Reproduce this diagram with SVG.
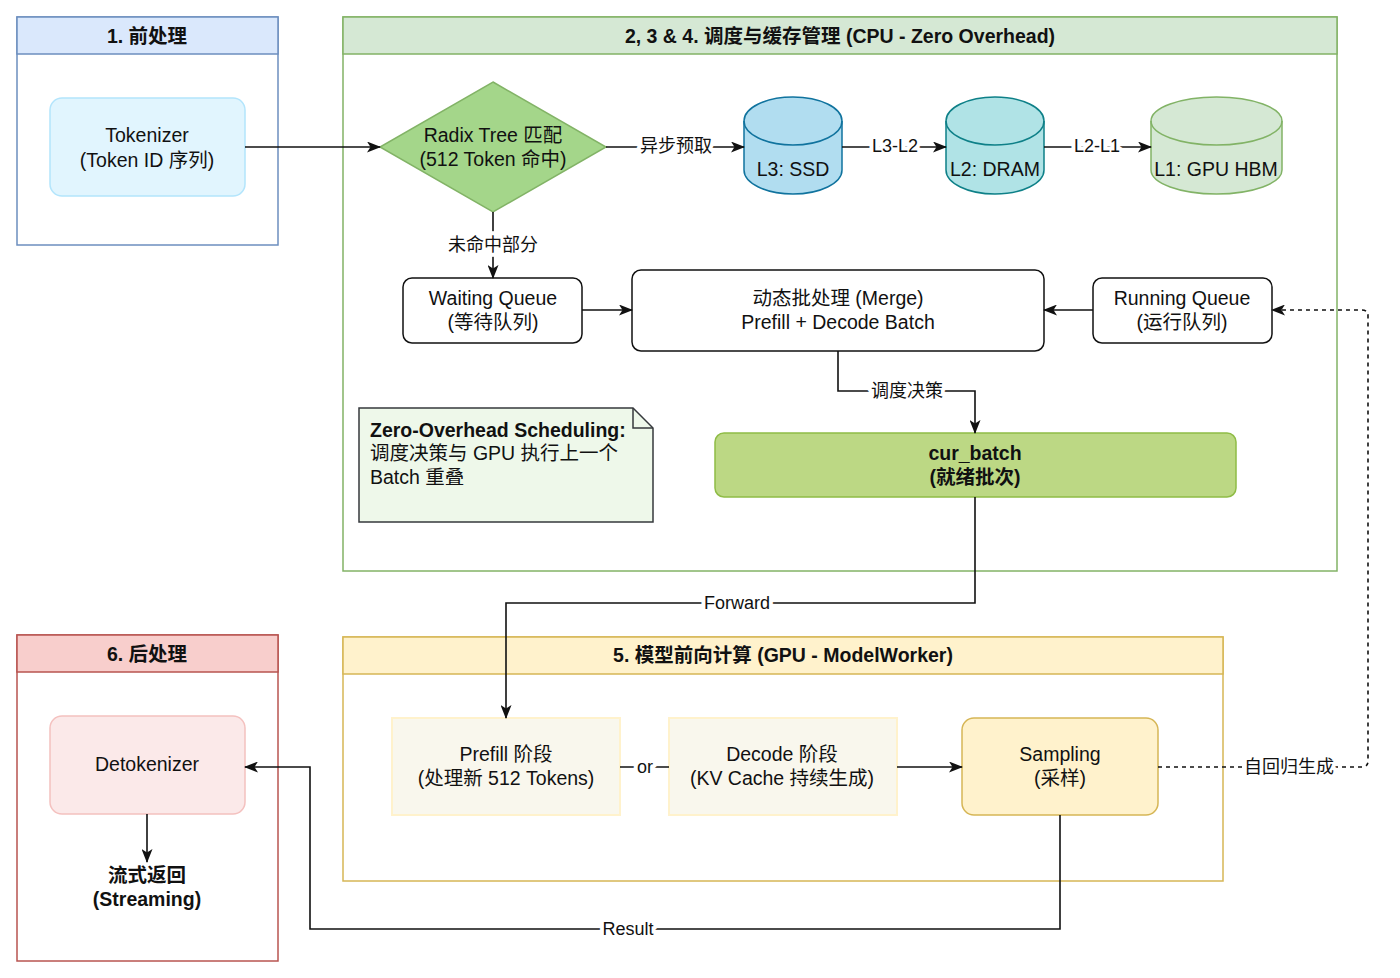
<svg xmlns="http://www.w3.org/2000/svg" width="1400" height="978" viewBox="0 0 1400 978">
<style>
text{font-family:"Liberation Sans","Noto Sans CJK SC",sans-serif;fill:#111;text-anchor:middle}
.n{font-size:19.5px}
.h{font-size:19.5px;font-weight:bold}
.b{font-weight:bold}
.l{font-size:18px;paint-order:stroke;stroke:#fff;stroke-width:8px;stroke-linejoin:round}
.e{fill:none;stroke:#111;stroke-width:1.6}
.d{stroke-dasharray:4 4}
</style>
<defs>
<marker id="a" viewBox="0 0 14 11" refX="13" refY="5.5" markerWidth="14" markerHeight="11" markerUnits="userSpaceOnUse" orient="auto">
<path d="M0,0 L14,5.5 L0,11 L3.5,5.5 Z" fill="#111"/>
</marker>
</defs>

<g id="group1">
<rect x="17" y="17" width="261" height="228" fill="#fff" stroke="#6c8ebf" stroke-width="1.5"/>
<rect x="17" y="17" width="261" height="37" fill="#dae8fc" stroke="#6c8ebf" stroke-width="1.5"/>
<text class="h" x="147" y="43">1. 前处理</text>
</g>
<g id="group2">
<rect x="343" y="17" width="994" height="554" fill="#fff" stroke="#82b366" stroke-width="1.5"/>
<rect x="343" y="17" width="994" height="37" fill="#d5e8d4" stroke="#82b366" stroke-width="1.5"/>
<text class="h" x="840" y="43">2, 3 &amp; 4. 调度与缓存管理 (CPU - Zero Overhead)</text>
</g>
<g id="group6">
<rect x="17" y="635" width="261" height="326" fill="#fff" stroke="#b85450" stroke-width="1.5"/>
<rect x="17" y="635" width="261" height="37" fill="#f8cecc" stroke="#b85450" stroke-width="1.5"/>
<text class="h" x="147" y="661">6. 后处理</text>
</g>
<g id="group5">
<rect x="343" y="637" width="880" height="244" fill="#fff" stroke="#d6b656" stroke-width="1.5"/>
<rect x="343" y="637" width="880" height="37" fill="#fff2cc" stroke="#d6b656" stroke-width="1.5"/>
<text class="h" x="783" y="662">5. 模型前向计算 (GPU - ModelWorker)</text>
</g>

<g id="tokenizer">
<rect x="50" y="98" width="195" height="98" rx="12" fill="#e1f5fe" stroke="#b3e5fc" stroke-width="1.5"/>
<text class="n" x="147" y="142">Tokenizer</text>
<text class="n" x="147" y="167">(Token ID 序列)</text>
</g>
<g id="radix">
<polygon points="493,82 606,147 493,212 380,147" fill="#a4d68a" stroke="#82b366" stroke-width="1.5"/>
<text class="n" x="493" y="142">Radix Tree 匹配</text>
<text class="n" x="493" y="166">(512 Token 命中)</text>
</g>
<g id="ssd">
<path d="M744,121 A49,24 0 0 1 842,121 L842,170 A49,24 0 0 1 744,170 Z" fill="#b1ddf0" stroke="#10739e" stroke-width="1.5"/>
<path d="M744,121 A49,24 0 0 0 842,121" fill="none" stroke="#10739e" stroke-width="1.5"/>
<text class="n" x="793" y="176">L3: SSD</text>
</g>
<g id="dram">
<path d="M946,121 A49,24 0 0 1 1044,121 L1044,170 A49,24 0 0 1 946,170 Z" fill="#b0e3e6" stroke="#0e8088" stroke-width="1.5"/>
<path d="M946,121 A49,24 0 0 0 1044,121" fill="none" stroke="#0e8088" stroke-width="1.5"/>
<text class="n" x="995" y="176">L2: DRAM</text>
</g>
<g id="hbm">
<path d="M1151,121 A65.5,24 0 0 1 1282,121 L1282,170 A65.5,24 0 0 1 1151,170 Z" fill="#d5e8d4" stroke="#82b366" stroke-width="1.5"/>
<path d="M1151,121 A65.5,24 0 0 0 1282,121" fill="none" stroke="#82b366" stroke-width="1.5"/>
<text class="n" x="1216" y="176">L1: GPU HBM</text>
</g>
<g id="waiting">
<rect x="403" y="278" width="179" height="65" rx="9" fill="#fff" stroke="#111" stroke-width="1.5"/>
<text class="n" x="493" y="305">Waiting Queue</text>
<text class="n" x="493" y="329">(等待队列)</text>
</g>
<g id="merge">
<rect x="632" y="270" width="412" height="81" rx="9" fill="#fff" stroke="#111" stroke-width="1.5"/>
<text class="n" x="838" y="305">动态批处理 (Merge)</text>
<text class="n" x="838" y="329">Prefill + Decode Batch</text>
</g>
<g id="running">
<rect x="1093" y="278" width="179" height="65" rx="9" fill="#fff" stroke="#111" stroke-width="1.5"/>
<text class="n" x="1182" y="305">Running Queue</text>
<text class="n" x="1182" y="329">(运行队列)</text>
</g>
<g id="note">
<path d="M359,408 L633,408 L653,428 L653,522 L359,522 Z" fill="#eef8ea" stroke="#36393d" stroke-width="1.5"/>
<path d="M633,408 L633,428 L653,428" fill="none" stroke="#36393d" stroke-width="1.5"/>
<text class="n b" x="370" y="437" style="text-anchor:start">Zero-Overhead Scheduling:</text>
<text class="n" x="370" y="460" style="text-anchor:start">调度决策与 GPU 执行上一个</text>
<text class="n" x="370" y="484" style="text-anchor:start">Batch 重叠</text>
</g>
<g id="curbatch">
<rect x="715" y="433" width="521" height="64" rx="9" fill="#bcd884" stroke="#8fbc46" stroke-width="1.5"/>
<text class="n b" x="975" y="460">cur_batch</text>
<text class="n b" x="975" y="484">(就绪批次)</text>
</g>
<g id="detokenizer">
<rect x="50" y="716" width="195" height="98" rx="12" fill="#fbe9e9" stroke="#f4c1bf" stroke-width="1.5"/>
<text class="n" x="147" y="771">Detokenizer</text>
</g>
<g id="streaming">
<text class="n b" x="147" y="882">流式返回</text>
<text class="n b" x="147" y="906">(Streaming)</text>
</g>
<g id="prefill">
<rect x="392" y="718" width="228" height="97" fill="#f9f7ed" stroke="#fff2cc" stroke-width="2"/>
<text class="n" x="506" y="761">Prefill 阶段</text>
<text class="n" x="506" y="785">(处理新 512 Tokens)</text>
</g>
<g id="decode">
<rect x="669" y="718" width="228" height="97" fill="#f9f7ed" stroke="#fff2cc" stroke-width="2"/>
<text class="n" x="782" y="761">Decode 阶段</text>
<text class="n" x="782" y="785">(KV Cache 持续生成)</text>
</g>
<g id="sampling">
<rect x="962" y="718" width="196" height="97" rx="12" fill="#fff2cc" stroke="#d6b656" stroke-width="1.5"/>
<text class="n" x="1060" y="761">Sampling</text>
<text class="n" x="1060" y="785">(采样)</text>
</g>

<g id="connectors">
<path class="e" d="M245,147 L380,147" marker-end="url(#a)"/>
<path class="e" d="M606,147 L744,147" marker-end="url(#a)"/>
<path class="e" d="M842,147 L946,147" marker-end="url(#a)"/>
<path class="e" d="M1044,147 L1151,147" marker-end="url(#a)"/>
<path class="e" d="M493,212 L493,278" marker-end="url(#a)"/>
<path class="e" d="M582,310 L632,310" marker-end="url(#a)"/>
<path class="e" d="M1093,310 L1044,310" marker-end="url(#a)"/>
<path class="e" d="M838,351 L838,391 L975,391 L975,433" marker-end="url(#a)"/>
<path class="e" d="M975,497 L975,603 L506,603 L506,718" marker-end="url(#a)"/>
<path class="e" d="M620,767 L669,767"/>
<path class="e" d="M897,767 L962,767" marker-end="url(#a)"/>
<path class="e d" d="M1158,767 L1362,767 Q1368,767 1368,761 L1368,316 Q1368,310 1362,310 L1272,310" marker-end="url(#a)"/>
<path class="e" d="M1060,815 L1060,929 L310,929 L310,767 L245,767" marker-end="url(#a)"/>
<path class="e" d="M147,814 L147,862" marker-end="url(#a)"/>
<text class="l" x="676" y="152">异步预取</text>
<text class="l" x="895" y="152">L3-L2</text>
<text class="l" x="1097" y="152">L2-L1</text>
<text class="l" x="493" y="251">未命中部分</text>
<text class="l" x="907" y="397">调度决策</text>
<text class="l" x="737" y="609">Forward</text>
<text class="l" x="645" y="773">or</text>
<text class="l" x="1289" y="773">自回归生成</text>
<text class="l" x="628" y="935">Result</text>
</g>
</svg>
